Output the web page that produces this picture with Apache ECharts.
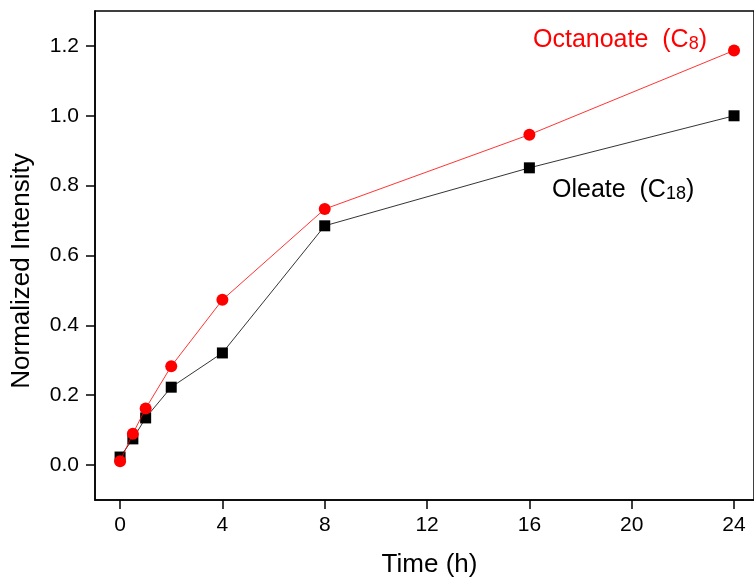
<!DOCTYPE html>
<html>
<head>
<meta charset="utf-8">
<script src="https://cdn.jsdelivr.net/npm/echarts@6/dist/echarts.min.js"></script>
<style>
  html, body { margin: 0; padding: 0; background: #fff; }
  #chart { width: 754px; height: 581px; }
</style>
</head>
<body>
<div id="chart"></div>
<script>
// Sampling times (hours)
const times = [0, 0.5, 1, 2, 4, 8, 16, 24];
// Normalized intensities for each fatty acid
const octanoate = [0.011, 0.090, 0.162, 0.283, 0.473, 0.733, 0.946, 1.187];
const oleate = [0.023, 0.075, 0.135, 0.223, 0.321, 0.685, 0.851, 1.0];
// Axis ticks
const xTicks = [0, 4, 8, 12, 16, 20, 24];
const yTicks = [0.0, 0.2, 0.4, 0.6, 0.8, 1.0, 1.2];

const FONT = '"Liberation Sans", Arial, sans-serif';

const chart = echarts.init(document.getElementById('chart'), null, { renderer: 'canvas' });

const pairs = (xs, ys) => xs.map((x, i) => [x, ys[i]]);

function seriesLabel(main, sub, color) {
  return {
    text: '{m|' + main + '  (C}{s|' + sub + '}{m|)}',
    rich: {
      m: { fontFamily: FONT, fontSize: 25, fill: color, verticalAlign: 'bottom', lineHeight: 28 },
      s: { fontFamily: FONT, fontSize: 18, fill: color, verticalAlign: 'bottom', lineHeight: 28, padding: [13, 0, 0, 0] }
    }
  };
}

chart.setOption({
  animation: false,
  backgroundColor: '#ffffff',
  grid: {
    left: 95, top: 11, right: 0, bottom: 81,
    outerBoundsMode: 'none',
    containLabel: false,
    show: true, borderColor: '#000', borderWidth: 1.5, backgroundColor: 'transparent'
  },
  xAxis: {
    type: 'value',
    min: -0.98, max: 24.78,
    name: 'Time (h)',
    nameLocation: 'middle',
    nameGap: 52,
    nameTextStyle: { fontFamily: FONT, fontSize: 26, color: '#000', padding: [0, 0, 0, 10] },
    axisLine: { show: true, onZero: false, lineStyle: { color: '#000', width: 1.5 } },
    axisTick: { show: true, length: 9, lineStyle: { color: '#000', width: 1.5 },
      customValues: xTicks },
    axisLabel: { fontFamily: FONT, fontSize: 21, color: '#000', margin: 15,
      customValues: xTicks },
    splitLine: { show: false }
  },
  yAxis: {
    type: 'value',
    min: -0.1, max: 1.3,
    axisLine: { show: true, onZero: false, lineStyle: { color: '#000', width: 1.5 } },
    axisTick: { show: true, length: 9, lineStyle: { color: '#000', width: 1.5 },
      customValues: yTicks },
    axisLabel: { fontFamily: FONT, fontSize: 21, color: '#000', margin: 16,
      formatter: v => v.toFixed(1), customValues: yTicks },
    splitLine: { show: false }
  },
  series: [
    {
      name: 'Oleate (C18)',
      type: 'line',
      data: pairs(times, oleate),
      symbol: 'rect',
      symbolSize: 11,
      itemStyle: { color: '#000' },
      lineStyle: { color: '#000', width: 0.8 },
      z: 2
    },
    {
      name: 'Octanoate (C8)',
      type: 'line',
      data: pairs(times, octanoate),
      symbol: 'circle',
      symbolSize: 12,
      itemStyle: { color: '#ff0000' },
      lineStyle: { color: '#ff0000', width: 0.8 },
      z: 3
    }
  ],
  graphic: [
    {
      type: 'text', x: 22, y: 271, rotation: Math.PI / 2,
      style: {
        text: 'Normalized Intensity', fontFamily: FONT, fontSize: 26, fill: '#000',
        align: 'center', verticalAlign: 'middle'
      }
    },
    { type: 'text', left: 533, top: 22, style: seriesLabel('Octanoate', '8', '#ff0000') },
    { type: 'text', left: 552, top: 172, style: seriesLabel('Oleate', '18', '#000000') }
  ]
});
</script>
</body>
</html>
